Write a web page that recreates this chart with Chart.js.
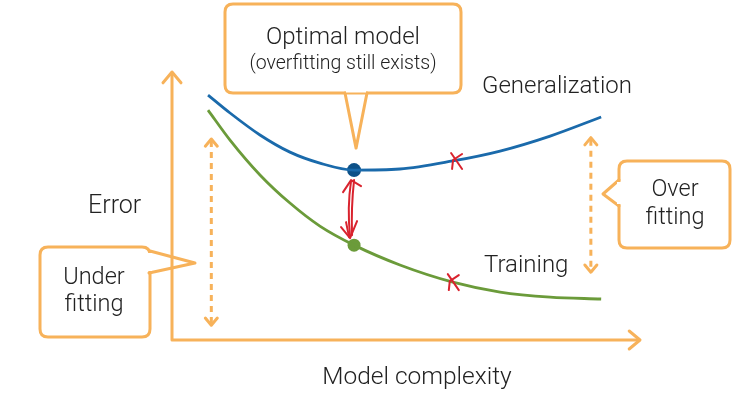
<!DOCTYPE html>
<html><head><meta charset="utf-8">
<script src="https://cdn.jsdelivr.net/npm/chart.js@4.4.1/dist/chart.umd.min.js"></script>
<style>html,body{margin:0;padding:0;background:#fff;}canvas{display:block;}</style>
</head><body>
<canvas id="c" width="746" height="409"></canvas>
<script>
// Model complexity (x) and error (y), abstract units 0..10
const complexity = [0.77, 1.24, 1.88, 2.52, 3.16, 3.89, 4.87, 6.0, 7.01, 8.08, 9.17];
const generalizationError = [9.14, 8.47, 7.65, 7.01, 6.60, 6.34, 6.38, 6.68, 7.05, 7.61, 8.32];
const trainingError = [8.58, 7.46, 6.16, 5.11, 4.25, 3.54, 2.80, 2.16, 1.79, 1.60, 1.53];
const optimalIndex = 5;
const crossMarksGen = [6.07, 6.68];
const crossMarksTrain = [6.0, 2.16];
const labels = {gen:'Generalization', train:'Training', yTitle:'Error', xTitle:'Model complexity',
  opt1:'Optimal model', opt2:'(overfitting still exists)', under:['Under','fitting'], over:['Over','fitting']};

const ORANGE = '#f7b25a', BLUE = '#1a6aab', GREEN = '#6b9b3a', RED = '#d9232e', TXT = '#222';
const FONT = 'Roboto, "Open Sans", sans-serif';

const pts = (ys) => complexity.map((x,i)=>({x, y: ys[i]}));

function roundRect(ctx, x, y, w, h, r){
  ctx.beginPath();
  ctx.moveTo(x+r,y); ctx.lineTo(x+w-r,y); ctx.quadraticCurveTo(x+w,y,x+w,y+r);
  ctx.lineTo(x+w,y+h-r); ctx.quadraticCurveTo(x+w,y+h,x+w-r,y+h);
  ctx.lineTo(x+r,y+h); ctx.quadraticCurveTo(x,y+h,x,y+h-r);
  ctx.lineTo(x,y+r); ctx.quadraticCurveTo(x,y,x+r,y); ctx.closePath();
}
function chevron(ctx, tx, ty, dir, s){
  ctx.beginPath();
  if(dir==='up'){ctx.moveTo(tx-s,ty+s*1.2);ctx.lineTo(tx,ty);ctx.lineTo(tx+s,ty+s*1.2);}
  if(dir==='down'){ctx.moveTo(tx-s,ty-s*1.2);ctx.lineTo(tx,ty);ctx.lineTo(tx+s,ty-s*1.2);}
  if(dir==='right'){ctx.moveTo(tx-s*1.2,ty-s);ctx.lineTo(tx,ty);ctx.lineTo(tx-s*1.2,ty+s);}
  ctx.stroke();
}

const deco = {
  id:'deco',
  afterDraw(chart){
    const ctx = chart.ctx, a = chart.chartArea, xs = chart.scales.x, ys = chart.scales.y;
    ctx.save();
    ctx.lineCap='round'; ctx.lineJoin='round';
    // axes
    ctx.strokeStyle=ORANGE; ctx.lineWidth=3;
    ctx.beginPath(); ctx.moveTo(a.left, a.top+1); ctx.lineTo(a.left, a.bottom); ctx.lineTo(a.right-1, a.bottom); ctx.stroke();
    chevron(ctx, a.left, a.top, 'up', 9);
    chevron(ctx, a.right, a.bottom, 'right', 9);
    // dashed arrows
    const dashed = (x, y1, y2) => {
      ctx.setLineDash([6,5]); ctx.lineCap='butt';
      ctx.beginPath(); ctx.moveTo(x,y1+2); ctx.lineTo(x,y2-2); ctx.stroke();
      ctx.setLineDash([]); ctx.lineCap='round';
      chevron(ctx,x,y1,'up',6); chevron(ctx,x,y2,'down',6);
    };
    dashed(xs.getPixelForValue(0.84), ys.getPixelForValue(7.5), ys.getPixelForValue(0.55));
    dashed(xs.getPixelForValue(8.95), ys.getPixelForValue(7.55), ys.getPixelForValue(2.53));
    // callouts
    ctx.fillStyle='#fff'; ctx.lineWidth=3; ctx.strokeStyle=ORANGE;
    const optX = xs.getPixelForValue(complexity[optimalIndex]);
    const optY = ys.getPixelForValue(generalizationError[optimalIndex]);
    // optimal model box
    ctx.beginPath();
    roundRect(ctx, 225, 4, 236, 89, 8); ctx.fill(); ctx.stroke();
    ctx.beginPath(); ctx.moveTo(345,93); ctx.lineTo(optX+2, optY-22); ctx.lineTo(367,93); ctx.stroke();
    ctx.fillRect(346,90,20,2.5);
    // under fitting
    roundRect(ctx, 40, 247, 110, 90, 8); ctx.fill(); ctx.stroke();
    ctx.beginPath(); ctx.moveTo(150,251); ctx.lineTo(195,263); ctx.lineTo(149,273); ctx.stroke();
    ctx.fillRect(148,253,4,18);
    // over fitting
    roundRect(ctx, 619, 161, 111, 87, 8); ctx.fill(); ctx.stroke();
    ctx.beginPath(); ctx.moveTo(619,180); ctx.lineTo(603,194); ctx.lineTo(619,206); ctx.stroke();
    ctx.fillRect(617,182,4,22);
    // texts
    ctx.fillStyle=TXT; ctx.textAlign='center'; ctx.textBaseline='middle';
    ctx.font='300 24px '+FONT;
    ctx.fillText(labels.opt1, 343, 38);
    ctx.font='300 19.5px '+FONT;
    ctx.fillText(labels.opt2, 343, 64);
    ctx.font='300 23.5px '+FONT;
    ctx.fillText(labels.under[0], 94, 278); ctx.fillText(labels.under[1], 94, 305);
    ctx.fillText(labels.over[0], 675, 190); ctx.fillText(labels.over[1], 675, 218);
    ctx.font='300 24px '+FONT;
    ctx.textAlign='left';
    ctx.fillText(labels.gen, 482, 87);
    ctx.fillText(labels.train, 484, 266);
    ctx.font='300 25px '+FONT;
    ctx.fillText(labels.yTitle, 88, 207);
    ctx.font='300 24.5px '+FONT;
    ctx.textAlign='center';
    ctx.fillText(labels.xTitle, 417, 378);
    // red hand drawn marks
    ctx.strokeStyle=RED; ctx.lineWidth=2;
    const cross = (x,y) => {
      ctx.beginPath(); ctx.moveTo(x-5,y-8); ctx.lineTo(x+6,y+8); ctx.stroke();
      ctx.beginPath(); ctx.moveTo(x+6,y-7); ctx.lineTo(x-3,y-1); ctx.lineTo(x-4,y+8); ctx.stroke();
    };
    cross(xs.getPixelForValue(crossMarksGen[0]), ys.getPixelForValue(crossMarksGen[1]));
    cross(xs.getPixelForValue(crossMarksTrain[0]), ys.getPixelForValue(crossMarksTrain[1]));
    const gy = ys.getPixelForValue(trainingError[optimalIndex]);
    ctx.beginPath(); ctx.moveTo(optX-3, optY+11); ctx.quadraticCurveTo(optX-7, (optY+gy)/2, optX-4, gy-9); ctx.stroke();
    ctx.beginPath(); ctx.moveTo(optX, optY+10); ctx.quadraticCurveTo(optX-3,(optY+gy)/2, optX-2, gy-10); ctx.stroke();
    ctx.beginPath(); ctx.moveTo(optX-11, optY+22); ctx.lineTo(optX-3, optY+10); ctx.lineTo(optX+7, optY+16); ctx.stroke();
    ctx.beginPath(); ctx.moveTo(optX-13, gy-18); ctx.lineTo(optX-4, gy-7); ctx.lineTo(optX+3, gy-24); ctx.stroke();
    ctx.beginPath(); ctx.moveTo(optX-8, gy-23); ctx.lineTo(optX-5, gy-8); ctx.stroke();
    ctx.restore();
  }
};

new Chart(document.getElementById('c'), {
  type:'line',
  data:{datasets:[
    {label:labels.gen, data:pts(generalizationError), borderColor:BLUE, borderWidth:2.8, pointRadius:0, tension:0.4, cubicInterpolationMode:'monotone', fill:false},
    {label:labels.train, data:pts(trainingError), borderColor:GREEN, borderWidth:2.8, pointRadius:0, tension:0.4, cubicInterpolationMode:'monotone', fill:false},
    {type:'scatter', data:[{x:complexity[optimalIndex], y:generalizationError[optimalIndex]}], backgroundColor:'#0d5188', borderWidth:0, pointRadius:7},
    {type:'scatter', data:[{x:complexity[optimalIndex], y:trainingError[optimalIndex]}], backgroundColor:'#6b9b3a', borderWidth:0, pointRadius:6.5}
  ]},
  options:{
    responsive:false, animation:false, devicePixelRatio:1,
    layout:{padding:{left:172, right:106, top:72, bottom:69}},
    plugins:{legend:{display:false}, tooltip:{enabled:false}},
    scales:{
      x:{type:'linear', min:0, max:10, display:false},
      y:{type:'linear', min:0, max:10, display:false}
    }
  },
  plugins:[deco]
});
</script>
</body></html>
